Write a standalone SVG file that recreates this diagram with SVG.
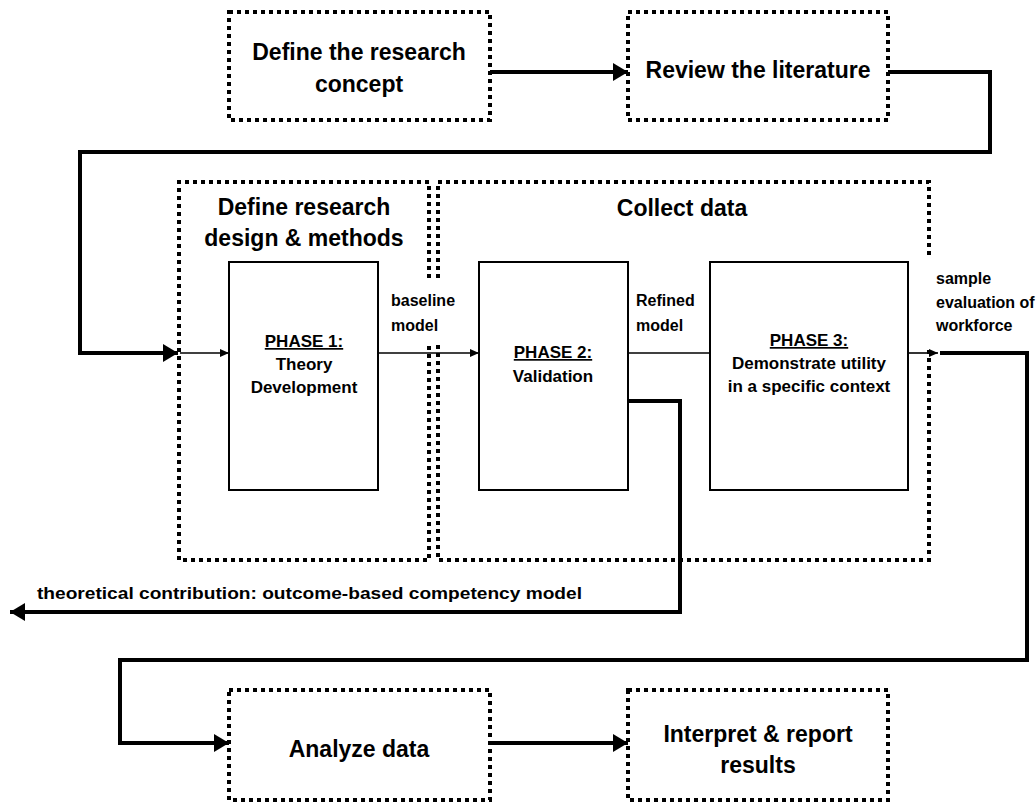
<svg xmlns="http://www.w3.org/2000/svg" width="1036" height="805" viewBox="0 0 1036 805">
<defs>
<style>
text{font-family:"Liberation Sans",Arial,sans-serif;font-weight:bold;fill:#000}
.t{font-size:23px;text-anchor:middle}
.s{font-size:16px}
.c{font-size:17px;text-anchor:middle}
.dot{fill:none;stroke:#000;stroke-width:4;stroke-dasharray:4 4}
.box{fill:#fff;stroke:#000;stroke-width:2}
.thick{fill:none;stroke:#000;stroke-width:4}
.thin{fill:none;stroke:#000;stroke-width:1.6}
</style>
<marker id="big" markerUnits="userSpaceOnUse" markerWidth="16" markerHeight="20" refX="15" refY="10" orient="auto"><path d="M0,1 L15,10 L0,19 z" fill="#000"/></marker>
<marker id="small" markerUnits="userSpaceOnUse" markerWidth="10" markerHeight="10" refX="9" refY="5" orient="auto"><path d="M0,1 L9,5 L0,9 z" fill="#000"/></marker>
</defs>
<rect width="1036" height="805" fill="#fff"/>

<g id="containers">
<path class="dot" d="M429,182 H179 V560 H429 V343 M429,278 V182"/>
<path class="dot" d="M438,278 V182 H929 V258 M929,350 V560 H438 V343"/>
</g>

<g id="connectors">
<path class="thick" d="M490,72 H628" marker-end="url(#big)"/>
<path class="thick" d="M888,72 H990 V152 H80 V353 H178" marker-end="url(#big)"/>
<path class="thin" d="M180,353 H229" marker-end="url(#small)"/>
<path class="thin" d="M378,353 H479" marker-end="url(#small)"/>
<path class="thin" d="M628,353 H710"/>
<path class="thin" d="M908,353 H938" marker-end="url(#small)"/>
<path class="thick" d="M940,353 H1027 V660 H120 V743 H229" marker-end="url(#big)"/>
<path class="thick" d="M628,401 H680 V612 H10" marker-end="url(#big)"/>
<path class="thick" d="M490,743 H628" marker-end="url(#big)"/>
</g>

<g id="n-concept">
<rect class="dot" x="229" y="12" width="261" height="108"/>
<text class="t" x="359" y="60">Define the research</text>
<text class="t" x="359" y="92">concept</text>
</g>
<g id="n-literature">
<rect class="dot" x="628" y="12" width="260" height="108"/>
<text class="t" x="758" y="78">Review the literature</text>
</g>
<g id="n-design">
<text class="t" x="304" y="215">Define research</text>
<text class="t" x="304" y="246">design &amp; methods</text>
</g>
<g id="n-collect">
<text class="t" x="682" y="216">Collect data</text>
</g>
<g id="n-phase1">
<rect class="box" x="229" y="262" width="149" height="228"/>
<text class="c" x="304" y="347" text-decoration="underline">PHASE 1:</text>
<text class="c" x="304" y="370">Theory</text>
<text class="c" x="304" y="393">Development</text>
</g>
<g id="n-phase2">
<rect class="box" x="479" y="262" width="149" height="228"/>
<text class="c" x="553" y="358" text-decoration="underline">PHASE 2:</text>
<text class="c" x="553" y="382">Validation</text>
</g>
<g id="n-phase3">
<rect class="box" x="710" y="262" width="198" height="228"/>
<text class="c" x="809" y="346" text-decoration="underline">PHASE 3:</text>
<text class="c" x="809" y="369">Demonstrate utility</text>
<text class="c" x="809" y="392">in a specific context</text>
</g>
<g id="labels">
<text class="s" x="391" y="306">baseline</text>
<text class="s" x="391" y="331">model</text>
<text class="s" x="636" y="306">Refined</text>
<text class="s" x="636" y="331">model</text>
<text class="s" x="936" y="284">sample</text>
<text class="s" x="936" y="308">evaluation of</text>
<text class="s" x="936" y="331">workforce</text>
<text x="37" y="599" font-size="17" textLength="545" lengthAdjust="spacingAndGlyphs">theoretical contribution: outcome-based competency model</text>
</g>
<g id="n-analyze">
<rect class="dot" x="229" y="690" width="261" height="110"/>
<text class="t" x="359" y="757">Analyze data</text>
</g>
<g id="n-interpret">
<rect class="dot" x="628" y="690" width="260" height="110"/>
<text class="t" x="758" y="742">Interpret &amp; report</text>
<text class="t" x="758" y="773">results</text>
</g>
</svg>
